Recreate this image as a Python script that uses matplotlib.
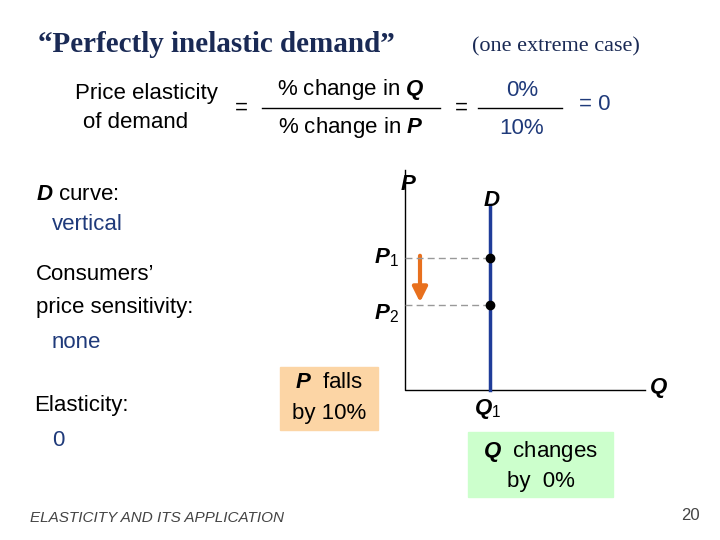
import matplotlib
matplotlib.use("Agg")
import matplotlib.pyplot as plt
from matplotlib.patches import Rectangle, FancyArrowPatch

price_levels = [258, 305]      # P1, P2 (pixel rows)
quantity = 490                 # Q1 (pixel column)
pct_q, pct_p = "0%", "10%"

plt.rcParams['font.family'] = ['Liberation Sans', 'DejaVu Sans']
plt.rcParams['mathtext.fontset'] = 'custom'
plt.rcParams['mathtext.rm'] = 'Liberation Sans'
plt.rcParams['mathtext.it'] = 'Liberation Sans:italic'
plt.rcParams['mathtext.bf'] = 'Liberation Sans:bold'
plt.rcParams['mathtext.bfit'] = 'Liberation Sans:italic:bold'
fig = plt.figure(figsize=(7.2, 5.4), dpi=100)
ax = fig.add_axes([0, 0, 1, 1])
ax.set_xlim(0, 720); ax.set_ylim(540, 0); ax.axis('off')

navy = '#1F3A7A'
ax.text(38, 45, "“Perfectly inelastic demand”", family='Liberation Serif', fontweight='bold',
        fontsize=21, color='#1A2A55', va='center')
ax.text(472, 47, "(one extreme case)", family='Liberation Serif', fontsize=16, color='#1A2A55', va='center')

fs = 16
ax.text(146, 94, "Price elasticity", fontsize=fs, ha='center', va='center')
ax.text(136, 123, "of demand", fontsize=fs, ha='center', va='center')
ax.text(241, 108, "=", fontsize=fs, ha='center', va='center')
ax.text(351, 89, "% change in $\\mathbfit{Q}$", fontsize=fs, ha='center', va='center')
ax.plot([262, 440], [108, 108], color='k', lw=1)
ax.text(351, 128, "% change in $\\mathbfit{P}$", fontsize=fs, ha='center', va='center')
ax.text(461, 108, "=", fontsize=fs, ha='center', va='center')
ax.text(522, 90, pct_q, fontsize=fs, ha='center', va='center', color=navy)
ax.plot([478, 562], [108, 108], color='k', lw=1)
ax.text(522, 128, pct_p, fontsize=fs, ha='center', va='center', color=navy)
ax.text(595, 104, "= 0", fontsize=fs, ha='center', va='center', color=navy)

ax.text(36, 194, "$\\mathbfit{D}$ curve:", fontsize=fs, va='center')
ax.text(52, 224, "vertical", fontsize=fs, va='center', color=navy)
ax.text(36, 275, "Consumers’", fontsize=fs, va='center')
ax.text(36, 308, "price sensitivity:", fontsize=fs, va='center')
ax.text(52, 342, "none", fontsize=fs, va='center', color=navy)
ax.text(34, 405, "Elasticity:", fontsize=fs, va='center')
ax.text(52, 440, "0", fontsize=fs, va='center', color=navy)

ax.plot([405, 405, 645], [170, 390, 390], color='k', lw=1)
ax.text(408, 184, "$\\mathbfit{P}$", fontsize=fs, ha='center', va='center')
ax.text(658, 388, "$\\mathbfit{Q}$", fontsize=fs, ha='center', va='center')
ax.text(492, 200, "$\\mathbfit{D}$", fontsize=fs, ha='center', va='center')
ax.plot([quantity, quantity], [205, 390], color='#1F3C99', lw=2.5)
for y in price_levels:
    ax.plot([405, quantity], [y, y], color='#999999', lw=1, ls=(0, (5, 3)))
    ax.plot([quantity], [y], 'o', color='k', ms=6)
ax.text(374, 258, "$\\mathbfit{P}_1$", fontsize=fs, ha='left', va='center')
ax.text(374, 314, "$\\mathbfit{P}_2$", fontsize=fs, ha='left', va='center')
ax.text(488, 409, "$\\mathbfit{Q}_1$", fontsize=fs, ha='center', va='center')

ax.add_patch(FancyArrowPatch((420, 253), (420, 305), arrowstyle='-|>', mutation_scale=22,
                             color='#E8701E', lw=3))

ax.add_patch(Rectangle((280, 367), 98, 63, color='#FCD5A5'))
ax.text(329, 383, "$\\mathbfit{P}$  falls", fontsize=fs, ha='center', va='center')
ax.text(329, 413, "by 10%", fontsize=fs, ha='center', va='center')
ax.add_patch(Rectangle((468, 432), 145, 65, color='#CCFFCC'))
ax.text(541, 451, "$\\mathbfit{Q}$  changes", fontsize=fs, ha='center', va='center')
ax.text(541, 481, "by  0%", fontsize=fs, ha='center', va='center')

ax.text(30, 518, "ELASTICITY AND ITS APPLICATION", fontsize=11, style='italic', color='#444444', va='center')
ax.text(690, 516, "20", fontsize=12, color='#444444', ha='center', va='center')

fig.savefig("out.png", dpi=100)
